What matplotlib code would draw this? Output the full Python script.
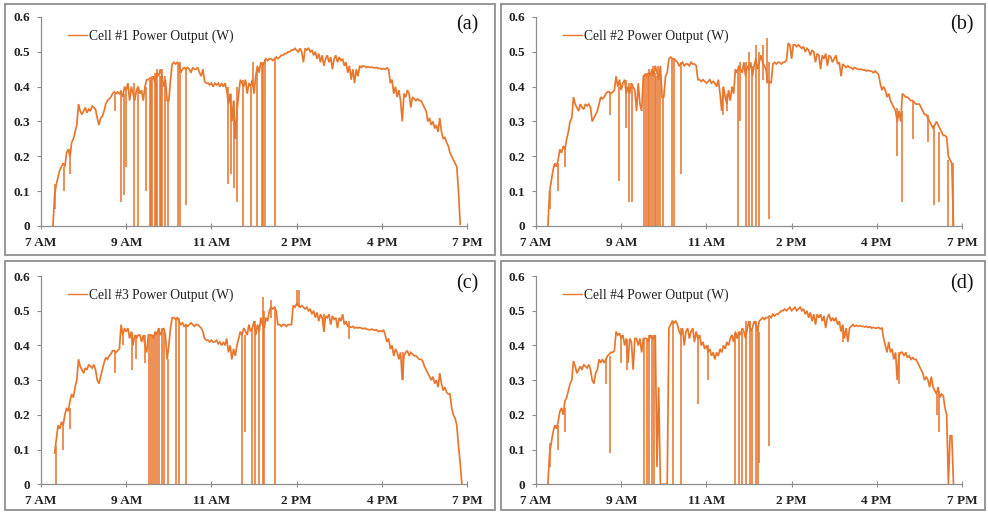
import numpy as np
import matplotlib
matplotlib.use("Agg")
import matplotlib.pyplot as plt
from matplotlib.patches import Rectangle

nan = float("nan")

# ---------------- data ----------------
tick_labels = ["7 AM", "9 AM", "11 AM", "2 PM", "4 PM", "7 PM"]
panel_tags = ["(a)", "(b)", "(c)", "(d)"]
series_names = ["Cell #1 Power Output (W)", "Cell #2 Power Output (W)",
                "Cell #3 Power Output (W)", "Cell #4 Power Output (W)"]

# samples: position along the category axis (1 unit = one tick interval)
first_sample = 0.10
sample_step = 0.02

cell1_power = [
    nan, nan, 0.0, 0.09, 0.12, 0.14, 0.16, 0.17, 0.18, 0.17,
    0.21, 0.22, 0.20, 0.24, 0.25, 0.27, 0.29, 0.35, 0.33, 0.32,
    0.33, 0.34, 0.325, 0.335, 0.33, 0.345, 0.34, 0.335, 0.31, 0.29,
    0.31, 0.315, 0.33, 0.35, 0.36, 0.365, 0.37, 0.38, 0.385, 0.38,
    0.385, 0.38, 0.385, 0.37, 0.40, 0.39, 0.41, 0.36, 0.40, 0.38,
    0.36, 0.39, 0.40, 0.38, 0.39, 0.36, 0.40, 0.42, 0.42, 0.425,
    0.42, 0.43, 0.41, 0.44, 0.43, 0.45, 0.43, 0.40, 0.42, 0.36,
    0.36, 0.42, 0.465, 0.47, 0.465, 0.47, 0.465, 0.44, 0.45, 0.455,
    0.45, 0.455, 0.45, 0.44, 0.455, 0.45, 0.45, 0.455, 0.44, 0.43,
    0.45, 0.415, 0.41, 0.41, 0.405, 0.41, 0.40, 0.41, 0.405, 0.41,
    0.40, 0.41, 0.40, 0.41, 0.39, 0.35, 0.38, 0.30, 0.36, 0.25,
    0.33, 0.38, 0.42, 0.41, 0.40, 0.42, 0.38, 0.41, 0.40, 0.42,
    0.38, 0.43, 0.46, 0.44, 0.47, 0.46, 0.47, 0.48, 0.475, 0.48,
    0.48, 0.475, 0.48, 0.485, 0.48, 0.485, 0.49, 0.49, 0.495, 0.495,
    0.50, 0.50, 0.505, 0.505, 0.51, 0.505, 0.50, 0.51, 0.50, 0.47,
    0.51, 0.505, 0.51, 0.50, 0.505, 0.49, 0.50, 0.48, 0.495, 0.47,
    0.49, 0.46, 0.48, 0.49, 0.47, 0.485, 0.45, 0.48, 0.49, 0.47,
    0.485, 0.475, 0.48, 0.46, 0.47, 0.44, 0.46, 0.42, 0.45, 0.41,
    0.45, 0.43, 0.46, 0.455, 0.46, 0.458, 0.455, 0.457, 0.455, 0.456,
    0.455, 0.454, 0.455, 0.452, 0.453, 0.45, 0.452, 0.45, 0.454, 0.45,
    0.41, 0.42, 0.38, 0.40, 0.37, 0.39, 0.36, 0.30, 0.38, 0.37,
    0.39, 0.38, 0.34, 0.37, 0.365, 0.36, 0.365, 0.36, 0.36, 0.35,
    0.34, 0.33, 0.30, 0.31, 0.29, 0.30, 0.28, 0.29, 0.27, 0.31,
    0.27, 0.25, 0.255, 0.24, 0.23, 0.21, 0.20, 0.19, 0.18, 0.17,
    0.10, 0.005, nan, nan, nan,
]
cell1_spike_t = [0.17, 0.275, 0.34, 0.87, 0.94, 0.97, 1.00, 1.086, 1.137, 1.227,
                 1.275, 1.29, 1.306, 1.333, 1.35, 1.361, 1.392, 1.41, 1.424, 1.451,
                 1.49, 1.61, 1.627, 1.706, 2.20, 2.235, 2.26, 2.30, 2.373, 2.47,
                 2.49, 2.537, 2.588, 2.60, 2.627, 2.749]
cell1_spike_top = [0.12, 0.17, 0.22, 0.38, 0.39, 0.38, 0.40, 0.41, 0.40, 0.40,
                   0.42, 0.42, 0.43, 0.44, 0.41, 0.45, 0.43, 0.43, 0.45, 0.43,
                   0.36, 0.465, 0.47, 0.45, 0.40, 0.38, 0.36, 0.40, 0.42, 0.40,
                   0.47, 0.45, 0.46, 0.47, 0.48, 0.48]
cell1_spike_bottom = [0.05, 0.10, 0.15, 0.33, 0.07, 0.09, 0.17, 0.0, 0.0, 0.10,
                      0.0, 0.0, 0.0, 0.0, 0.0, 0.0, 0.0, 0.0, 0.0, 0.0,
                      0.0, 0.0, 0.0, 0.06, 0.12, 0.15, 0.11, 0.07, 0.0, 0.0,
                      0.40, 0.0, 0.0, 0.0, 0.0, 0.0]

cell2_power = [
    nan, nan, 0.0, 0.10, 0.13, 0.16, 0.18, 0.17, 0.19, 0.22,
    0.21, 0.23, 0.22, 0.25, 0.27, 0.30, 0.31, 0.37, 0.35, 0.34,
    0.33, 0.35, 0.34, 0.335, 0.35, 0.345, 0.35, 0.34, 0.30, 0.31,
    0.32, 0.33, 0.35, 0.37, 0.365, 0.37, 0.38, 0.385, 0.385, 0.38,
    0.385, 0.39, 0.43, 0.40, 0.42, 0.39, 0.41, 0.42, 0.38, 0.40,
    0.38, 0.41, 0.40, 0.39, 0.33, 0.41, 0.35, 0.33, 0.43, 0.435,
    0.43, 0.44, 0.43, 0.45, 0.43, 0.46, 0.44, 0.42, 0.46, 0.37,
    0.37, 0.43, 0.44, 0.48, 0.485, 0.48, 0.48, 0.475, 0.47, 0.46,
    0.465, 0.47, 0.46, 0.465, 0.465, 0.46, 0.47, 0.465, 0.465, 0.46,
    0.42, 0.42, 0.415, 0.42, 0.415, 0.41, 0.415, 0.42, 0.41, 0.415,
    0.41, 0.40, 0.42, 0.38, 0.33, 0.40, 0.37, 0.35, 0.39, 0.36,
    0.40, 0.38, 0.45, 0.44, 0.46, 0.45, 0.44, 0.47, 0.43, 0.46,
    0.45, 0.47, 0.43, 0.46, 0.48, 0.45, 0.47, 0.49, 0.47, 0.46,
    0.45, 0.41, 0.415, 0.41, 0.465, 0.47, 0.465, 0.47, 0.47, 0.465,
    0.47, 0.47, 0.475, 0.525, 0.52, 0.48, 0.52, 0.52, 0.515, 0.52,
    0.515, 0.51, 0.515, 0.50, 0.51, 0.505, 0.49, 0.505, 0.50, 0.47,
    0.495, 0.49, 0.45, 0.49, 0.48, 0.495, 0.46, 0.49, 0.485, 0.47,
    0.48, 0.49, 0.465, 0.47, 0.43, 0.465, 0.46, 0.455, 0.46, 0.455,
    0.455, 0.45, 0.455, 0.452, 0.45, 0.45, 0.45, 0.448, 0.448, 0.445,
    0.447, 0.445, 0.444, 0.44, 0.445, 0.44, 0.435, 0.41, 0.39, 0.40,
    0.39, 0.37, 0.38, 0.36, 0.35, 0.34, 0.33, 0.30, 0.33, 0.30,
    0.38, 0.375, 0.37, 0.37, 0.365, 0.36, 0.36, 0.355, 0.35, 0.35,
    0.35, 0.34, 0.33, 0.32, 0.32, 0.31, 0.30, 0.29, 0.28, 0.29,
    0.30, 0.29, 0.28, 0.27, 0.26, 0.26, 0.255, 0.20, 0.19, 0.18,
    0.0, nan, nan, nan, nan,
]
cell2_spike_t = [0.17, 0.26, 0.34, 0.87, 0.98, 1.06, 1.09, 1.125, 1.27, 1.29,
                 1.31, 1.33, 1.35, 1.37, 1.395, 1.41, 1.43, 1.45, 1.49, 1.60,
                 1.62, 1.70, 2.19, 2.24, 2.37, 2.40, 2.46, 2.50, 2.53, 2.58,
                 2.62, 2.66, 2.706, 2.74, 4.24, 4.29, 4.42, 4.60, 4.67, 4.73,
                 4.83, 4.89]
cell2_spike_top = [0.10, 0.18, 0.23, 0.385, 0.40, 0.42, 0.41, 0.40, 0.43, 0.44,
                   0.43, 0.45, 0.44, 0.46, 0.44, 0.43, 0.46, 0.44, 0.37, 0.48,
                   0.48, 0.47, 0.40, 0.38, 0.45, 0.47, 0.47, 0.50, 0.46, 0.52,
                   0.50, 0.52, 0.54, 0.47, 0.34, 0.33, 0.36, 0.32, 0.29, 0.27,
                   0.19, 0.18]
cell2_spike_bottom = [0.05, 0.10, 0.17, 0.32, 0.13, 0.28, 0.07, 0.07, 0.0, 0.0,
                      0.0, 0.0, 0.0, 0.0, 0.0, 0.0, 0.0, 0.0, 0.0, 0.0,
                      0.0, 0.15, 0.32, 0.33, 0.0, 0.30, 0.0, 0.0, 0.0, 0.0,
                      0.0, 0.42, 0.41, 0.02, 0.20, 0.07, 0.25, 0.24, 0.06, 0.07,
                      0.0, 0.0]

cell3_power = [
    nan, nan, nan, 0.09, 0.13, 0.17, 0.16, 0.18, 0.17, 0.20,
    0.22, 0.21, 0.24, 0.26, 0.25, 0.28, 0.30, 0.36, 0.34, 0.33,
    0.32, 0.335, 0.33, 0.345, 0.34, 0.335, 0.345, 0.33, 0.30, 0.29,
    0.31, 0.33, 0.35, 0.365, 0.36, 0.37, 0.375, 0.385, 0.385, 0.38,
    0.385, 0.39, 0.46, 0.43, 0.45, 0.44, 0.45, 0.42, 0.44, 0.40,
    0.43, 0.42, 0.43, 0.43, 0.41, 0.43, 0.40, 0.38, 0.43, 0.43,
    0.43, 0.42, 0.44, 0.43, 0.45, 0.43, 0.44, 0.45, 0.43, 0.36,
    0.40, 0.45, 0.48, 0.48, 0.475, 0.48, 0.47, 0.46, 0.465, 0.455,
    0.46, 0.455, 0.46, 0.465, 0.46, 0.455, 0.46, 0.46, 0.455, 0.45,
    0.44, 0.42, 0.415, 0.415, 0.41, 0.415, 0.41, 0.41, 0.415, 0.405,
    0.41, 0.40, 0.41, 0.40, 0.42, 0.38, 0.40, 0.36, 0.39, 0.37,
    0.40, 0.42, 0.44, 0.43, 0.45, 0.44, 0.43, 0.46, 0.44, 0.45,
    0.47, 0.43, 0.46, 0.44, 0.48, 0.46, 0.45, 0.48, 0.47, 0.50,
    0.51, 0.505, 0.51, 0.50, 0.46, 0.46, 0.455, 0.46, 0.46, 0.455,
    0.46, 0.46, 0.46, 0.515, 0.51, 0.52, 0.515, 0.51, 0.515, 0.51,
    0.505, 0.51, 0.50, 0.505, 0.49, 0.50, 0.48, 0.495, 0.47, 0.49,
    0.48, 0.44, 0.485, 0.48, 0.49, 0.46, 0.485, 0.475, 0.48, 0.45,
    0.48, 0.47, 0.49, 0.46, 0.47, 0.455, 0.455, 0.452, 0.455, 0.45,
    0.452, 0.45, 0.452, 0.45, 0.448, 0.45, 0.447, 0.446, 0.445, 0.447,
    0.445, 0.444, 0.445, 0.44, 0.442, 0.44, 0.445, 0.43, 0.41, 0.42,
    0.39, 0.40, 0.37, 0.39, 0.38, 0.36, 0.38, 0.30, 0.37, 0.38,
    0.385, 0.37, 0.38, 0.375, 0.37, 0.37, 0.365, 0.36, 0.36, 0.355,
    0.34, 0.33, 0.32, 0.31, 0.30, 0.31, 0.29, 0.30, 0.28, 0.32,
    0.29, 0.27, 0.28, 0.265, 0.26, 0.26, 0.22, 0.20, 0.19, 0.17,
    0.11, 0.06, 0.0, nan, nan,
]
cell3_spike_t = [0.175, 0.26, 0.34, 0.87, 0.96, 1.07, 1.12, 1.22, 1.27, 1.29,
                 1.31, 1.34, 1.36, 1.39, 1.42, 1.44, 1.49, 1.59, 1.62, 1.70,
                 2.36, 2.40, 2.48, 2.51, 2.56, 2.60, 2.62, 2.70, 2.75, 3.00,
                 3.03, 3.32, 3.62, 4.25]
cell3_spike_top = [0.11, 0.17, 0.22, 0.385, 0.44, 0.44, 0.43, 0.43, 0.43, 0.43,
                   0.43, 0.44, 0.43, 0.45, 0.45, 0.44, 0.36, 0.48, 0.48, 0.46,
                   0.44, 0.43, 0.45, 0.47, 0.46, 0.54, 0.50, 0.53, 0.51, 0.56,
                   0.56, 0.49, 0.47, 0.38]
cell3_spike_bottom = [0.0, 0.10, 0.16, 0.32, 0.40, 0.33, 0.36, 0.35, 0.0, 0.0,
                      0.0, 0.0, 0.0, 0.0, 0.0, 0.0, 0.0, 0.0, 0.0, 0.0,
                      0.0, 0.15, 0.0, 0.0, 0.0, 0.0, 0.0, 0.48, 0.0, 0.515,
                      0.51, 0.44, 0.42, 0.30]

cell4_power = [
    nan, nan, 0.0, 0.09, 0.12, 0.15, 0.17, 0.16, 0.18, 0.21,
    0.22, 0.20, 0.24, 0.25, 0.27, 0.29, 0.30, 0.355, 0.34, 0.32,
    0.33, 0.34, 0.33, 0.345, 0.34, 0.335, 0.345, 0.33, 0.30, 0.29,
    0.32, 0.33, 0.36, 0.35, 0.36, 0.35, 0.36, 0.37, 0.375, 0.38,
    0.38, 0.385, 0.44, 0.43, 0.435, 0.42, 0.43, 0.40, 0.42, 0.35,
    0.42, 0.41, 0.33, 0.42, 0.42, 0.40, 0.42, 0.38, 0.42, 0.42,
    0.42, 0.41, 0.43, 0.42, 0.42, 0.43, 0.05, 0.28, 0.0, 0.0,
    0.0, 0.0, 0.0, 0.45, 0.46, 0.47, 0.465, 0.47, 0.46, 0.44,
    0.43, 0.45, 0.40, 0.44, 0.45, 0.42, 0.44, 0.45, 0.41, 0.44,
    0.42, 0.43, 0.40, 0.41, 0.39, 0.40, 0.38, 0.39, 0.37, 0.38,
    0.36, 0.38, 0.37, 0.39, 0.38, 0.40, 0.39, 0.41, 0.40, 0.42,
    0.43, 0.41, 0.44, 0.42, 0.44, 0.43, 0.45, 0.44, 0.42, 0.45,
    0.47, 0.44, 0.45, 0.47, 0.46, 0.44, 0.47, 0.475, 0.48, 0.475,
    0.48, 0.48, 0.485, 0.48, 0.49, 0.485, 0.49, 0.49, 0.495, 0.50,
    0.50, 0.505, 0.50, 0.505, 0.51, 0.50, 0.505, 0.51, 0.50, 0.505,
    0.51, 0.50, 0.505, 0.49, 0.50, 0.48, 0.495, 0.47, 0.49, 0.46,
    0.49, 0.48, 0.49, 0.47, 0.485, 0.45, 0.48, 0.49, 0.47, 0.48,
    0.47, 0.48, 0.46, 0.47, 0.44, 0.46, 0.42, 0.45, 0.41, 0.45,
    0.455, 0.46, 0.455, 0.458, 0.455, 0.457, 0.455, 0.455, 0.453, 0.455,
    0.452, 0.454, 0.45, 0.452, 0.45, 0.45, 0.452, 0.448, 0.45, 0.42,
    0.40, 0.38, 0.41, 0.38, 0.39, 0.36, 0.38, 0.30, 0.37, 0.38,
    0.38, 0.37, 0.38, 0.365, 0.37, 0.36, 0.365, 0.36, 0.36, 0.35,
    0.34, 0.33, 0.32, 0.30, 0.31, 0.30, 0.28, 0.31, 0.28, 0.27,
    0.26, 0.28, 0.25, 0.26, 0.255, 0.22, 0.20, 0.0, 0.14, 0.14,
    0.0, nan, nan, nan, nan,
]
cell4_spike_t = [0.17, 0.26, 0.34, 0.82, 0.87, 1.00, 1.07, 1.27, 1.30, 1.33,
                 1.36, 1.39, 1.61, 1.70, 1.90, 2.02, 2.34, 2.38, 2.42, 2.47,
                 2.51, 2.54, 2.58, 2.60, 2.62, 2.74, 3.60, 4.26, 4.71, 4.73]
cell4_spike_top = [0.12, 0.17, 0.22, 0.36, 0.37, 0.43, 0.42, 0.42, 0.42, 0.43,
                   0.43, 0.43, 0.47, 0.45, 0.43, 0.40, 0.43, 0.44, 0.44, 0.47,
                   0.47, 0.45, 0.47, 0.46, 0.44, 0.48, 0.46, 0.38, 0.26, 0.27]
cell4_spike_bottom = [0.05, 0.10, 0.15, 0.29, 0.09, 0.35, 0.33, 0.0, 0.0, 0.0,
                      0.0, 0.0, 0.0, 0.0, 0.23, 0.30, 0.0, 0.0, 0.0, 0.0,
                      0.0, 0.0, 0.0, 0.0, 0.06, 0.11, 0.41, 0.29, 0.20, 0.15]

# ---------------- figure ----------------
line_color = "#E8772E"
frame_color = "#8f8f8f"
serif = ["Liberation Serif", "DejaVu Serif"]

fig = plt.figure(figsize=(9.88, 5.12), dpi=100)
fig.patch.set_facecolor("white")

# outer chart frames (figure fraction)
frames = [(0.005, 0.502, 0.496, 0.490), (0.507, 0.502, 0.490, 0.490),
          (0.005, 0.004, 0.496, 0.486), (0.507, 0.004, 0.490, 0.486)]
for (fx, fy, fw, fh) in frames:
    fig.add_artist(Rectangle((fx, fy), fw, fh, transform=fig.transFigure,
                             fill=False, ec=frame_color, lw=1.3))

axes_pos = [(0.0415, 0.5586, 0.4312, 0.4082), (0.5425, 0.5586, 0.4312, 0.4082),
            (0.0415, 0.0541, 0.4312, 0.4068), (0.5425, 0.0541, 0.4312, 0.4068)]

powers = [cell1_power, cell2_power, cell3_power, cell4_power]
spike_ts = [cell1_spike_t, cell2_spike_t, cell3_spike_t, cell4_spike_t]
spike_tops = [cell1_spike_top, cell2_spike_top, cell3_spike_top, cell4_spike_top]
spike_bottoms = [cell1_spike_bottom, cell2_spike_bottom, cell3_spike_bottom, cell4_spike_bottom]

for i in range(4):
    ax = fig.add_axes(axes_pos[i])
    p = np.array(powers[i], dtype=float)
    x = first_sample + sample_step * np.arange(len(p))
    ax.plot(x, p, color=line_color, lw=1.25, solid_joinstyle="miter",
            label=series_names[i])
    ax.vlines(spike_ts[i], spike_bottoms[i], spike_tops[i], color=line_color, lw=1.15)

    ax.set_xlim(0, 5)
    ax.set_ylim(0, 0.6)
    ax.set_xticks(range(len(tick_labels)))
    ax.set_xticklabels(tick_labels)
    yt = [0, 0.1, 0.2, 0.3, 0.4, 0.5, 0.6]
    ax.set_yticks(yt)
    ax.set_yticklabels(["0", "0.1", "0.2", "0.3", "0.4", "0.5", "0.6"])
    for lab in ax.get_xticklabels() + ax.get_yticklabels():
        lab.set_fontfamily(serif)
        lab.set_fontweight("bold")
        lab.set_fontsize(9.5)
        lab.set_color("#222222")
    ax.tick_params(axis="y", direction="out", length=3, width=0.8, color=frame_color, pad=5)
    ax.tick_params(axis="x", direction="inout", length=4, width=0.8, color=frame_color, pad=6)
    for s in ["top", "right"]:
        ax.spines[s].set_visible(False)
    for s in ["left", "bottom"]:
        ax.spines[s].set_color(frame_color)
        ax.spines[s].set_linewidth(0.9)
    ax.set_facecolor("none")

    leg = ax.legend(loc="center left", bbox_to_anchor=(0.063, 0.91), frameon=False,
                    borderpad=0, borderaxespad=0, handlelength=1.4, handletextpad=0.15,
                    prop={"family": serif, "size": 9.8})
    for t in leg.get_texts():
        t.set_color("#222222")
    for h in leg.get_lines():
        h.set_linewidth(1.0)

    ax.text(1.0, 0.962, panel_tags[i], transform=ax.transAxes, ha="center", va="center",
            fontsize=14.5, family=serif, color="#111111", clip_on=False)

fig.savefig("out.png", dpi=100, facecolor="white")
